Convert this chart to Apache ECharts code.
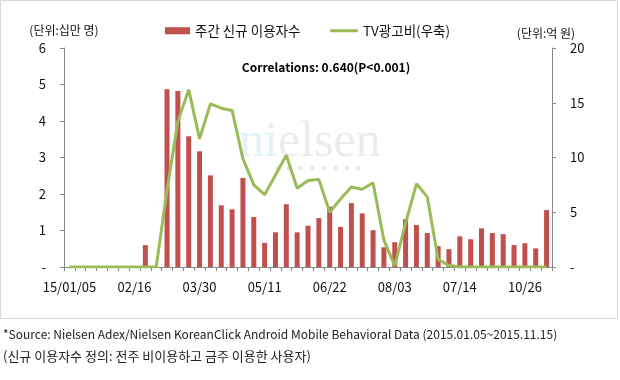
<!DOCTYPE html>
<html>
<head>
<meta charset="utf-8">
<script src="https://cdn.jsdelivr.net/npm/echarts@6/dist/echarts.min.js"></script>
<style>
html,body{margin:0;padding:0;background:#fff;}
#chart{width:620px;height:380px;}
</style>
</head>
<body>
<div id="chart"></div>
<script>
// Weekly categories (as labelled in the reference)
const categories = ['15/01/05','01/12','01/19','01/26','02/02','02/09','02/16','02/23','03/02','03/09',
  '03/16','03/23','03/30','04/06','04/13','04/20','04/27','05/04','05/11','05/18',
  '05/25','06/01','06/08','06/15','06/22','06/29','07/06','07/13','07/20','07/27',
  '08/03','08/10','08/17','08/24','08/31','09/07','07/14','09/21','09/28','10/05',
  '10/12','10/19','10/26','11/02','11/09'];
// 주간 신규 이용자수 (십만 명)
const newUsers = [0,0,0,0,0,0,0,0.60,0,4.87,
  4.82,3.58,3.17,2.51,1.69,1.58,2.44,1.37,0.66,0.95,
  1.72,0.95,1.13,1.34,1.65,1.10,1.75,1.47,1.01,0.54,
  0.68,1.31,1.15,0.93,0.57,0.49,0.84,0.76,1.06,0.93,
  0.90,0.60,0.65,0.51,1.56];
// TV광고비 (억 원)
const tvAd = [0,0,0,0,0,0,0,0,0,7.0,
  13.3,16.2,11.7,14.9,14.5,14.3,9.9,7.5,6.6,8.4,
  10.2,7.2,7.9,8.0,5.0,6.2,7.3,7.1,7.7,2.45,
  0.1,4.0,7.6,6.4,0.7,0.15,0,0,0,0,
  0,0,0,0,0];
const leftTicks = {min:0, max:6, interval:1};
const rightTicks = {min:0, max:20, interval:5};

const FONT = "'Noto Sans CJK KR', 'Noto Sans', sans-serif";
const AXIS = '#868686';
const chart = echarts.init(document.getElementById('chart'));
const zeroDash = v => v === 0 ? '-' : String(v);

chart.setOption({
  animation:false,
  textStyle:{fontFamily:FONT},
  grid:{left:64, right:68, top:48, bottom:113},
  legend:[
    {data:[{name:'주간 신규 이용자수', icon:'rect'}], left:165, top:24, itemWidth:25, itemHeight:7, itemGap:0,
     textStyle:{fontSize:13.5, color:'#111', fontFamily:FONT}, padding:0},
    {data:[{name:'TV광고비(우축)', icon:'rect'}], left:330, top:24, itemWidth:28, itemHeight:3, itemGap:0,
     textStyle:{fontSize:13.5, color:'#111', fontFamily:FONT}, padding:0}
  ],
  xAxis:{
    type:'category', data:categories, boundaryGap:true,
    axisLine:{lineStyle:{color:AXIS, width:1}},
    axisTick:{show:true, interval:0, length:4, lineStyle:{color:AXIS}},
    axisLabel:{interval:5, margin:14, fontSize:13, color:'#111', fontFamily:FONT},
    splitLine:{show:false}
  },
  yAxis:[
    {type:'value', min:leftTicks.min, max:leftTicks.max, interval:leftTicks.interval,
     name:'(단위:십만 명)', nameLocation:'end', nameGap:12,
     nameTextStyle:{fontSize:12, color:'#111', fontFamily:FONT},
     axisLine:{show:true, lineStyle:{color:AXIS}},
     axisTick:{show:true, length:4, lineStyle:{color:AXIS}},
     axisLabel:{margin:18, fontSize:13, color:'#111', formatter:zeroDash},
     splitLine:{show:false}},
    {type:'value', min:rightTicks.min, max:rightTicks.max, interval:rightTicks.interval,
     name:'(단위:억 원)', nameLocation:'end', nameGap:9,
     nameTextStyle:{fontSize:12, color:'#111', fontFamily:FONT, padding:[0,12,0,0]},
     axisLine:{show:true, lineStyle:{color:AXIS}},
     axisTick:{show:true, length:4, lineStyle:{color:AXIS}},
     axisLabel:{margin:18, fontSize:13, color:'#111', formatter:zeroDash},
     splitLine:{show:false}}
  ],
  graphic:[
    {type:'rect', shape:{x:0.5, y:0.5, width:617, height:318}, style:{fill:'none', stroke:'#d9d9d9', lineWidth:1}, z:-10, silent:true},
    {type:'text', x:310, y:143, z:-5, silent:true,
     style:{text:'{a|ni}{b|elsen}', textAlign:'center', textVerticalAlign:'middle',
       rich:{a:{fontFamily:'Liberation Serif, serif', fontSize:50, fill:'#e3f1f8'},
             b:{fontFamily:'Liberation Serif, serif', fontSize:50, fill:'#ececec'}}}},
    {type:'text', x:318, y:168, z:-5, silent:true,
     style:{text:'●  ●  ●  ●  ●  ●  ●  ●', textAlign:'center', textVerticalAlign:'middle', fontSize:10, fill:'#e8e8e8'}},
    {type:'text', x:326, y:67, style:{text:'Correlations: 0.640(P<0.001)', textAlign:'center', textVerticalAlign:'middle',
       fontFamily:FONT, fontSize:12, fontWeight:'bold', fill:'#000'}},
    {type:'text', x:3, y:334, style:{text:'*Source: Nielsen Adex/Nielsen KoreanClick Android Mobile Behavioral Data (2015.01.05~2015.11.15)',
       textVerticalAlign:'middle', fontFamily:FONT, fontSize:12, fill:'#222'}},
    {type:'text', x:3, y:356, style:{text:'(신규 이용자수 정의: 전주 비이용하고 금주 이용한 사용자)',
       textVerticalAlign:'middle', fontFamily:FONT, fontSize:13, fill:'#222'}}
  ],
  series:[
    {name:'주간 신규 이용자수', type:'bar', data:newUsers, yAxisIndex:0, barWidth:5,
     itemStyle:{color:'#C0504D'}, z:2},
    {name:'TV광고비(우축)', type:'line', data:tvAd, yAxisIndex:1, symbol:'none', smooth:false,
     lineStyle:{color:'#9BBB59', width:3}, itemStyle:{color:'#9BBB59'}, z:3}
  ]
});
</script>
</body>
</html>
